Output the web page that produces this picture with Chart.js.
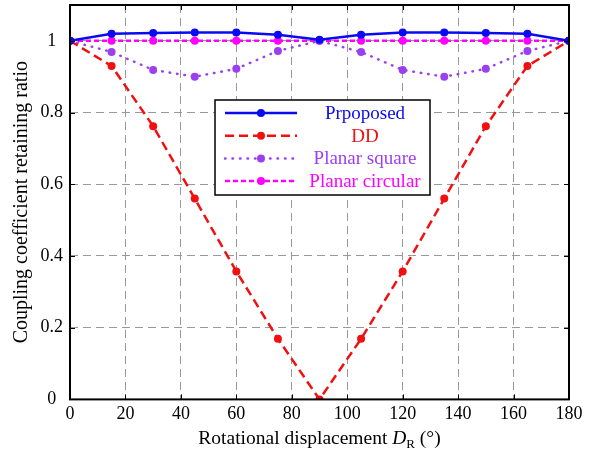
<!DOCTYPE html>
<html>
<head>
<meta charset="utf-8">
<script src="https://cdn.jsdelivr.net/npm/chart.js@4/dist/chart.umd.min.js"></script>
<style>
  html, body { margin: 0; padding: 0; background: #fff; }
  #wrap { width: 604px; height: 453px; }
</style>
</head>
<body>
<div id="wrap"><canvas id="diagram"></canvas></div>
<script>
const angles = [0, 15, 30, 45, 60, 75, 90, 105, 120, 135, 150, 165, 180];
const proposed = [1, 1.02, 1.022, 1.023, 1.023, 1.017, 1.003, 1.017, 1.023, 1.023, 1.022, 1.02, 1];
const dd = [1, 0.93, 0.762, 0.56, 0.357, 0.169, 0, 0.169, 0.357, 0.56, 0.762, 0.93, 1];
const planarSquare = [1, 0.969, 0.919, 0.9, 0.922, 0.972, 1, 0.969, 0.919, 0.9, 0.922, 0.972, 1];
const planarCircular = [1, 1, 1, 1, 1, 1, 1, 1, 1, 1, 1, 1, 1];
const xTicks = [0, 20, 40, 60, 80, 100, 120, 140, 160, 180];
const yTicks = [0, 0.2, 0.4, 0.6, 0.8, 1];

const serif = "'Liberation Serif', 'DejaVu Serif', serif";

const pts = (vals) => angles.map((a, i) => ({ x: a, y: vals[i] }));

// frame, inward ticks, x title with subscript, boxed legend
const framePlugin = {
  id: "frame",
  afterDatasetsDraw(chart) {
    const { ctx, chartArea: a, scales } = chart;
    ctx.save();
    ctx.strokeStyle = "#000";
    ctx.lineWidth = 1;
    ctx.beginPath();
    xTicks.forEach((t) => {
      const px = Math.round(scales.x.getPixelForValue(t)) + 0.5;
      ctx.moveTo(px, a.bottom); ctx.lineTo(px, a.bottom - 5);
      ctx.moveTo(px, a.top); ctx.lineTo(px, a.top + 5);
    });
    yTicks.forEach((t) => {
      const py = Math.round(scales.y.getPixelForValue(t)) + 0.5;
      ctx.moveTo(a.left, py); ctx.lineTo(a.left + 5, py);
      ctx.moveTo(a.right, py); ctx.lineTo(a.right - 5, py);
    });
    ctx.stroke();
    ctx.lineWidth = 2;
    ctx.strokeRect(a.left, a.top, a.right - a.left, a.bottom - a.top);

    // x axis title
    const parts = [
      ["Rotational displacement ", "19.5px " + serif, 0],
      ["D", "italic 19.5px " + serif, 0],
      ["R", "13px " + serif, 4],
      [" (\u00B0)", "19.5px " + serif, 0],
    ];
    let total = 0;
    parts.forEach((p) => { ctx.font = p[1]; total += ctx.measureText(p[0]).width; });
    let x = (a.left + a.right) / 2 - total / 2;
    ctx.fillStyle = "#000";
    ctx.textAlign = "left";
    ctx.textBaseline = "alphabetic";
    parts.forEach((p) => {
      ctx.font = p[1];
      ctx.fillText(p[0], x, 444 + p[2]);
      x += ctx.measureText(p[0]).width;
    });

    // legend
    const lx = 215, ly = 100, lw = 215, lh = 95;
    ctx.fillStyle = "#fff";
    ctx.fillRect(lx, ly, lw, lh);
    ctx.strokeStyle = "#000";
    ctx.lineWidth = 1.5;
    ctx.strokeRect(lx, ly, lw, lh);
    ctx.font = "19px " + serif;
    ctx.textAlign = "center";
    ctx.textBaseline = "middle";
    chart.data.datasets.forEach((ds, i) => {
      const y = ly + 13 + i * 22.7;
      ctx.strokeStyle = ds.borderColor;
      ctx.lineWidth = ds.borderWidth;
      ctx.lineCap = ds.borderCapStyle || "butt";
      ctx.setLineDash(ds.borderDash || []);
      ctx.beginPath();
      ctx.moveTo(lx + 10, y); ctx.lineTo(lx + 82, y);
      ctx.stroke();
      ctx.setLineDash([]);
      ctx.fillStyle = ds.borderColor;
      ctx.beginPath();
      ctx.arc(lx + 46, y, 4, 0, Math.PI * 2);
      ctx.fill();
      ctx.fillText(ds.label, lx + 150, y + 1);
    });
    ctx.restore();
  },
};

const mk = (label, vals, color, width, dash, cap) => ({
  label,
  data: pts(vals),
  borderColor: color,
  backgroundColor: color,
  borderWidth: width,
  borderDash: dash,
  borderCapStyle: cap || "butt",
  pointRadius: 4,
  pointBorderWidth: 0,
  pointBackgroundColor: color,
  tension: 0,
});

new Chart(document.querySelector("#diagram").getContext("2d"), {
  type: "line",
  data: {
    datasets: [
      mk("Prpoposed", proposed, "#0a0af0", 2.5, []),
      mk("DD", dd, "#f01010", 2.5, [9, 5]),
      mk("Planar square", planarSquare, "#9b3ff0", 2.5, [0.5, 7], "round"),
      mk("Planar circular", planarCircular, "#ff00ff", 2.5, [5, 3]),
    ],
  },
  options: {
    responsive: true,
    maintainAspectRatio: false,
    animation: false,
    layout: { padding: { top: 5, right: 35, left: 10, bottom: 24 } },
    plugins: { legend: { display: false }, tooltip: { enabled: false } },
    scales: {
      x: {
        type: "linear",
        min: 0,
        max: 180,
        afterBuildTicks: (s) => { s.ticks = xTicks.map((v) => ({ value: v })); },
        afterFit: (s) => { s.paddingLeft = 0; s.paddingRight = 0; },
        ticks: { color: "#000", font: { family: serif, size: 18 }, padding: 4, maxRotation: 0 },
        grid: { color: "#999", drawTicks: false, tickLength: 0 },
        border: { display: false, dash: [8, 5] },
      },
      y: {
        min: 0,
        max: 1.1,
        afterBuildTicks: (s) => { s.ticks = yTicks.map((v) => ({ value: v })); },
        afterFit: (s) => { s.width = 60; s.paddingTop = 0; s.paddingBottom = 0; },
        ticks: {
          color: "#000",
          font: { family: serif, size: 18 },
          padding: 7,
          crossAlign: "center",
          callback: (v) => String(v),
        },
        grid: { color: "#999", drawTicks: false, tickLength: 0 },
        border: { display: false, dash: [8, 5] },
        title: {
          display: true,
          text: "Coupling coefficient retaining ratio",
          color: "#000",
          font: { family: serif, size: 20 },
          padding: { top: 0, bottom: 0 },
        },
      },
    },
  },
  plugins: [framePlugin],
});
</script>
</body>
</html>
